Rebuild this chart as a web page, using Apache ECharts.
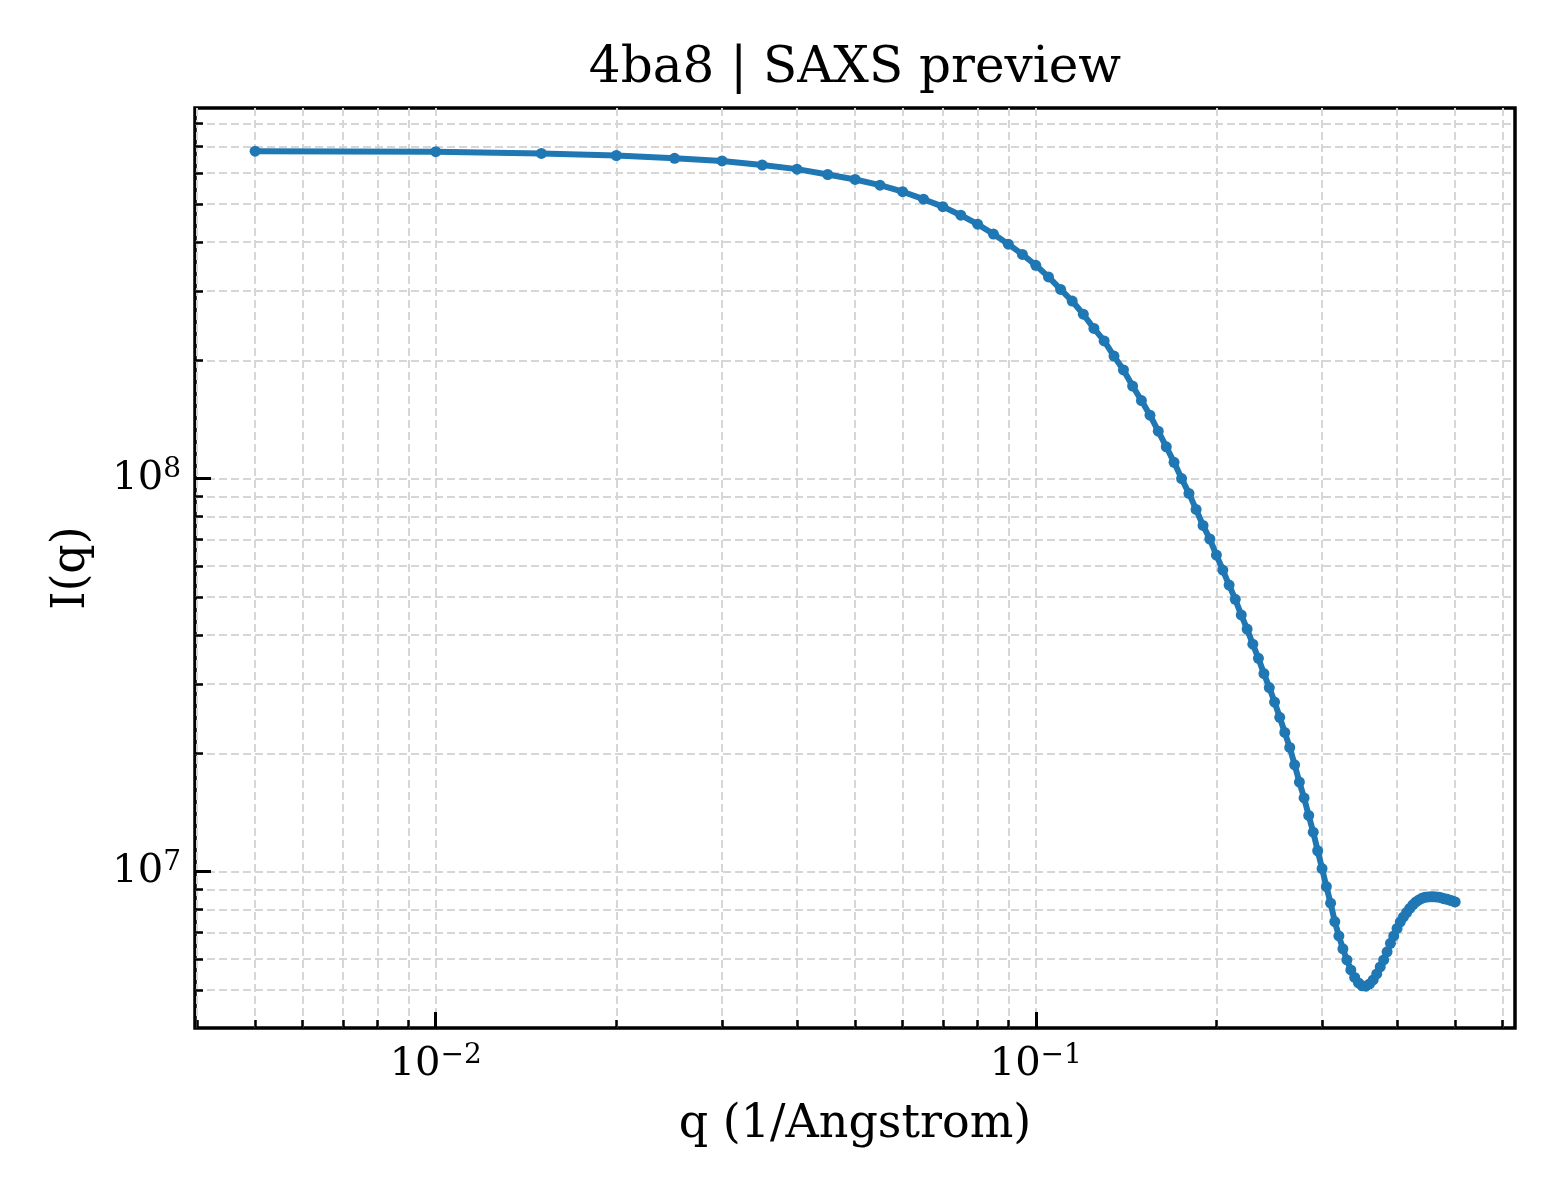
<!DOCTYPE html>
<html>
<head>
<meta charset="utf-8">
<title>4ba8 | SAXS preview</title>
<script src="https://cdn.jsdelivr.net/npm/echarts@6/dist/echarts.min.js"></script>
<style>
    html, body { margin: 0; padding: 0; background: #fff; }
    #chart { width: 1560px; height: 1200px; }
</style>
</head>
<body>
<div id="chart"></div>
<script>
// q grid (1/Angstrom)
var qValues = [
    0.005, 0.010, 0.015, 0.020, 0.025, 0.030, 0.035, 0.040, 0.045, 0.050,
    0.055, 0.060, 0.065, 0.070, 0.075, 0.080, 0.085, 0.090, 0.095, 0.100,
    0.105, 0.110, 0.115, 0.120, 0.125, 0.130, 0.135, 0.140, 0.145, 0.150,
    0.155, 0.160, 0.165, 0.170, 0.175, 0.180, 0.185, 0.190, 0.195, 0.200,
    0.205, 0.210, 0.215, 0.220, 0.225, 0.230, 0.235, 0.240, 0.245, 0.250,
    0.255, 0.260, 0.265, 0.270, 0.275, 0.280, 0.285, 0.290, 0.295, 0.300,
    0.305, 0.310, 0.315, 0.320, 0.325, 0.330, 0.335, 0.340, 0.345, 0.350,
    0.355, 0.360, 0.365, 0.370, 0.375, 0.380, 0.385, 0.390, 0.395, 0.400,
    0.405, 0.410, 0.415, 0.420, 0.425, 0.430, 0.435, 0.440, 0.445, 0.450,
    0.455, 0.460, 0.465, 0.470, 0.475, 0.480, 0.485, 0.490, 0.495, 0.500
];
// I(q)
var intensity = [
    6.81e8, 6.79e8, 6.72e8, 6.64e8, 6.53e8, 6.43e8, 6.28e8, 6.13e8, 5.94e8, 5.77e8,
    5.58e8, 5.37e8, 5.14e8, 4.92e8, 4.68e8, 4.44e8, 4.19e8, 3.95e8, 3.72e8, 3.49e8,
    3.26e8, 3.03e8, 2.83e8, 2.62e8, 2.41e8, 2.24e8, 2.05e8, 1.89e8, 1.72e8, 1.58e8,
    1.45e8, 1.32e8, 1.205e8, 1.10e8, 1.00e8, 9.17e7, 8.35e7, 7.60e7, 7.02e7, 6.39e7,
    5.85e7, 5.36e7, 4.93e7, 4.50e7, 4.14e7, 3.79e7, 3.49e7, 3.19e7, 2.94e7, 2.70e7,
    2.47e7, 2.26e7, 2.07e7, 1.87e7, 1.69e7, 1.54e7, 1.39e7, 1.26e7, 1.13e7, 1.018e7,
    9.16e6, 8.31e6, 7.46e6, 6.86e6, 6.36e6, 5.96e6, 5.62e6, 5.38e6, 5.21e6, 5.12e6,
    5.11e6, 5.18e6, 5.30e6, 5.49e6, 5.72e6, 5.96e6, 6.25e6, 6.57e6, 6.86e6, 7.17e6,
    7.45e6, 7.67e6, 7.87e6, 8.06e6, 8.23e6, 8.37e6, 8.47e6, 8.55e6, 8.60e6, 8.62e6,
    8.63e6, 8.63e6, 8.62e6, 8.61e6, 8.57e6, 8.53e6, 8.50e6, 8.46e6, 8.42e6, 8.37e6
];

// axis limits and tick positions
var xRange = [0.00397, 0.629];
var yRange = [4.0e6, 8.77e8];
var xMajorTicks = [0.01, 0.1];
var xMinorTicks = [0.004, 0.005, 0.006, 0.007, 0.008, 0.009,
    0.02, 0.03, 0.04, 0.05, 0.06, 0.07, 0.08, 0.09,
    0.2, 0.3, 0.4, 0.5, 0.6];
var yMajorTicks = [1e7, 1e8];
var yMinorTicks = [5e6, 6e6, 7e6, 8e6, 9e6,
    2e7, 3e7, 4e7, 5e7, 6e7, 7e7, 8e7, 9e7,
    2e8, 3e8, 4e8, 5e8, 6e8, 7e8, 8e8];

var FONT = 'DejaVu Serif';
var BLUE = '#1f77b4';

var points = qValues.map(function(q, i) { return [q, intensity[i]]; });

// 10^n with a raised exponent
function powLabel(v) {
    var e = Math.round(Math.log(v) / Math.LN10);
    return '{b|10}{s|' + (e < 0 ? '\u2212' + (-e) : e) + '}';
}
var labelRich = {
    b: { fontFamily: FONT, fontSize: 40, color: '#000', lineHeight: 46 },
    s: { fontFamily: FONT, fontSize: 28, color: '#000', lineHeight: 22, verticalAlign: 'top' }
};
var gridLine = {
    show: true,
    lineStyle: { color: '#d6d6d6', width: 2, type: [8, 4] }
};

function majorAxis(range, ticks, position, name, nameGap) {
    return {
        type: 'log',
        position: position,
        min: range[0],
        max: range[1],
        axisLine: { show: false },
        axisTick: { show: true, inside: true, length: 16, lineStyle: { color: '#000', width: 3 }, customValues: ticks },
        axisLabel: { show: true, customValues: ticks, formatter: powLabel, rich: labelRich, margin: 14 },
        splitLine: gridLine,
        name: name,
        nameLocation: 'middle',
        nameGap: nameGap,
        nameTextStyle: { fontFamily: FONT, fontSize: 46, color: '#000' }
    };
}
function minorAxis(range, ticks, position) {
    return {
        type: 'log',
        position: position,
        min: range[0],
        max: range[1],
        axisLine: { show: false },
        axisTick: { show: true, inside: true, length: 8, lineStyle: { color: '#000', width: 2.5 }, customValues: ticks },
        axisLabel: { show: false },
        splitLine: gridLine
    };
}

var myChart = echarts.init(document.getElementById('chart'));
var option = {
    backgroundColor: '#fff',
    animation: false,
    title: {
        text: '4ba8 | SAXS preview',
        left: 855,
        top: 44,
        padding: 0,
        textAlign: 'center',
        textStyle: { fontFamily: FONT, fontSize: 50, fontWeight: 'normal', color: '#000' }
    },
    grid: {
        left: 195,
        right: 45,
        top: 108,
        bottom: 172,
        show: true,
        borderColor: '#000',
        borderWidth: 3.5,
        backgroundColor: 'transparent'
    },
    xAxis: [
        majorAxis(xRange, xMajorTicks, 'bottom', 'q (1/Angstrom)', 74),
        minorAxis(xRange, xMinorTicks, 'bottom')
    ],
    yAxis: [
        majorAxis(yRange, yMajorTicks, 'left', 'I(q)', 100),
        minorAxis(yRange, yMinorTicks, 'left')
    ],
    series: [{
        name: 'I(q)',
        type: 'line',
        xAxisIndex: 0,
        yAxisIndex: 0,
        data: points,
        symbol: 'circle',
        symbolSize: 11,
        showSymbol: true,
        lineStyle: { color: BLUE, width: 6 },
        itemStyle: { color: BLUE },
        silent: true
    }]
};
myChart.setOption(option);
</script>
</body>
</html>
